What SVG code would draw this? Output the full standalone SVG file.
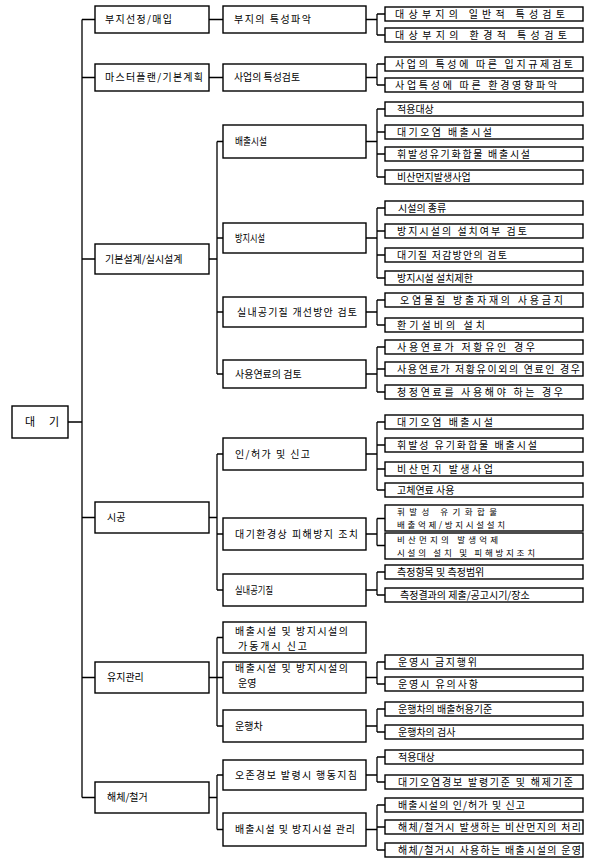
<svg xmlns="http://www.w3.org/2000/svg" width="594" height="861" viewBox="0 0 594 861">
<style>
.bx{fill:#fff;stroke:#000;stroke-width:1.4}
.tx{font-family:"Noto Sans CJK KR","Noto Sans",sans-serif;font-size:10px;fill:#000}
.t2{font-size:8.5px}
.cn{fill:none;stroke:#000;stroke-width:1.3}
</style>
<rect width="594" height="861" fill="#fff"/>
<g id="connectors" class="cn">
<path d="M68,422H82M82,19.5V797.5M82,19.5H95M82,77.5H95M82,259H95M82,517.5H95M82,677.5H95M82,797.5H95"/>
<path d="M209,19.5H223M209,77.5H223"/>
<path d="M209,259H217M217,141.5V374M217,141.5H223M217,238H223M217,312H223M217,374H223"/>
<path d="M209,517.5H217M217,454V590M217,454H223M217,534H223M217,590H223"/>
<path d="M209,677.5H217M217,637.5V726M217,637.5H223M217,677.5H223M217,726H223"/>
<path d="M209,797.5H217M217,775V829.5M217,775H223M217,829.5H223"/>
<path d="M366,19.5H377M377,14V35M377,14H385M377,35H385"/>
<path d="M366,77.5H377M377,64V85M377,64H385M377,85H385"/>
<path d="M366,141.5H377M377,109V177M377,109H385M377,132H385M377,154H385M377,177H385"/>
<path d="M366,238H377M377,208V278M377,208H385M377,231H385M377,255H385M377,278H385"/>
<path d="M366,312H377M377,300V325M377,300H385M377,325H385"/>
<path d="M366,374H377M377,347V392M377,347H385M377,369H385M377,392H385"/>
<path d="M366,454H377M377,422V490M377,422H385M377,445H385M377,469H385M377,490H385"/>
<path d="M366,534H377M377,518.5V545.5M377,518.5H385M377,545.5H385"/>
<path d="M366,590H377M377,572V595M377,572H385M377,595H385"/>
<path d="M366,677.5H377M377,662V684M377,662H385M377,684H385"/>
<path d="M366,726H377M377,709V732M377,709H385M377,732H385"/>
<path d="M366,775H377M377,757V782M377,757H385M377,782H385"/>
<path d="M366,829.5H377M377,805V850M377,805H385M377,827H385M377,850H385"/>
</g>
<g id="n0"><rect class="bx" x="12" y="406" width="56" height="32"/><text class="tx" style="font-size:11px" x="25" y="426">대</text><text class="tx" style="font-size:11px" x="49" y="426">기</text></g>
<g id="a1"><rect class="bx" x="95" y="6" width="114" height="27"/><text class="tx" x="105" y="23.1" textLength="67">부지선정/매입</text></g>
<g id="a2"><rect class="bx" x="95" y="64" width="114" height="27"/><text class="tx" x="105" y="81.1" textLength="98">마스터플랜/기본계획</text></g>
<g id="a3"><rect class="bx" x="95" y="244" width="114" height="30"/><text class="tx" x="105" y="262.6">기본설계/실시설계</text></g>
<g id="a4"><rect class="bx" x="95" y="502" width="114" height="31"/><text class="tx" x="107" y="521.1">시공</text></g>
<g id="a5"><rect class="bx" x="95" y="662" width="114" height="31"/><text class="tx" x="107" y="681.1">유지관리</text></g>
<g id="a6"><rect class="bx" x="95" y="782" width="114" height="31"/><text class="tx" x="107" y="801.1">해체/철거</text></g>
<g id="b1"><rect class="bx" x="223" y="6" width="143" height="27"/><text class="tx" x="234" y="23.1" textLength="77">부지의 특성파악</text></g>
<g id="b2"><rect class="bx" x="223" y="64" width="143" height="27"/><text class="tx" x="234" y="81.1" textLength="66" lengthAdjust="spacingAndGlyphs">사업의 특성검토</text></g>
<g id="b3"><rect class="bx" x="223" y="125" width="143" height="33"/><text class="tx" x="235" y="145.1" textLength="32" lengthAdjust="spacingAndGlyphs">배출시설</text></g>
<g id="b4"><rect class="bx" x="223" y="223" width="143" height="30"/><text class="tx" x="235" y="241.6" textLength="30" lengthAdjust="spacingAndGlyphs">방지시설</text></g>
<g id="b5"><rect class="bx" x="223" y="297" width="143" height="30"/><text class="tx" x="237" y="315.6" textLength="120">실내공기질 개선방안 검토</text></g>
<g id="b6"><rect class="bx" x="223" y="360" width="143" height="28"/><text class="tx" x="235" y="377.6">사용연료의 검토</text></g>
<g id="b7"><rect class="bx" x="223" y="438" width="143" height="32"/><text class="tx" x="235" y="457.6" textLength="75">인/허가 및 신고</text></g>
<g id="b8"><rect class="bx" x="223" y="518" width="143" height="32"/><text class="tx" x="235" y="537.6" textLength="123">대기환경상 피해방지 조치</text></g>
<g id="b9"><rect class="bx" x="223" y="574" width="143" height="32"/><text class="tx" x="235" y="593.6" textLength="38" lengthAdjust="spacingAndGlyphs">실내공기질</text></g>
<g id="b10"><rect class="bx" x="223" y="622" width="143" height="31"/><text class="tx" x="235" y="635" textLength="113">배출시설 및 방지시설의</text><text class="tx" x="238" y="649.5" textLength="69">가동개시 신고</text></g>
<g id="b11"><rect class="bx" x="223" y="662" width="143" height="31"/><text class="tx" x="235" y="672" textLength="113">배출시설 및 방지시설의</text><text class="tx" x="238" y="687">운영</text></g>
<g id="b12"><rect class="bx" x="223" y="710" width="143" height="32"/><text class="tx" x="235" y="729.6">운행차</text></g>
<g id="b13"><rect class="bx" x="223" y="760" width="143" height="30"/><text class="tx" x="235" y="778.6" textLength="122">오존경보 발령시 행동지침</text></g>
<g id="b14"><rect class="bx" x="223" y="813" width="143" height="33"/><text class="tx" x="235" y="833.1" textLength="120">배출시설 및 방지시설 관리</text></g>
<g id="c1"><rect class="bx" x="385" y="7" width="198" height="14"/><text class="tx" x="395" y="17.6" textLength="170">대상부지의 일반적 특성검토</text></g>
<g id="c2"><rect class="bx" x="385" y="28" width="198" height="14"/><text class="tx" x="395" y="38.6" textLength="172">대상부지의 환경적 특성검토</text></g>
<g id="c3"><rect class="bx" x="385" y="57" width="198" height="14"/><text class="tx" x="395" y="67.6" textLength="178">사업의 특성에 따른 입지규제검토</text></g>
<g id="c4"><rect class="bx" x="385" y="78" width="198" height="14"/><text class="tx" x="395" y="88.6" textLength="162">사업특성에 따른 환경영향파악</text></g>
<g id="c5"><rect class="bx" x="385" y="102" width="198" height="14"/><text class="tx" x="397" y="112.6">적용대상</text></g>
<g id="c6"><rect class="bx" x="385" y="125" width="198" height="14"/><text class="tx" x="397" y="135.6" textLength="95">대기오염 배출시설</text></g>
<g id="c7"><rect class="bx" x="385" y="147" width="198" height="14"/><text class="tx" x="397" y="157.6" textLength="133">휘발성유기화합물 배출시설</text></g>
<g id="c8"><rect class="bx" x="385" y="170" width="198" height="14"/><text class="tx" x="397" y="180.6">비산먼지발생사업</text></g>
<g id="c9"><rect class="bx" x="385" y="201" width="198" height="14"/><text class="tx" x="398" y="211.6">시설의 종류</text></g>
<g id="c10"><rect class="bx" x="385" y="224" width="198" height="14"/><text class="tx" x="397" y="234.6" textLength="130">방지시설의 설치여부 검토</text></g>
<g id="c11"><rect class="bx" x="385" y="248" width="198" height="14"/><text class="tx" x="397" y="258.6" textLength="110">대기질 저감방안의 검토</text></g>
<g id="c12"><rect class="bx" x="385" y="271" width="198" height="14"/><text class="tx" x="397" y="281.6">방지시설 설치제한</text></g>
<g id="c13"><rect class="bx" x="385" y="293" width="198" height="14"/><text class="tx" x="400" y="303.6" textLength="163">오염물질 방출자재의 사용금지</text></g>
<g id="c14"><rect class="bx" x="385" y="318" width="198" height="14"/><text class="tx" x="397" y="328.6" textLength="88">환기설비의 설치</text></g>
<g id="c15"><rect class="bx" x="385" y="340" width="198" height="14"/><text class="tx" x="397" y="350.6" textLength="138">사용연료가 저황유인 경우</text></g>
<g id="c16"><rect class="bx" x="385" y="362" width="198" height="14"/><text class="tx" x="397" y="372.6" textLength="183">사용연료가 저황유이외의 연료인 경우</text></g>
<g id="c17"><rect class="bx" x="385" y="385" width="198" height="14"/><text class="tx" x="397" y="395.6" textLength="166">청정연료를 사용해야 하는 경우</text></g>
<g id="c18"><rect class="bx" x="385" y="415" width="198" height="14"/><text class="tx" x="397" y="425.6" textLength="96">대기오염 배출시설</text></g>
<g id="c19"><rect class="bx" x="385" y="438" width="198" height="14"/><text class="tx" x="397" y="448.6" textLength="140">휘발성 유기화합물 배출시설</text></g>
<g id="c20"><rect class="bx" x="385" y="462" width="198" height="14"/><text class="tx" x="397" y="472.6" textLength="96">비산먼지 발생사업</text></g>
<g id="c21"><rect class="bx" x="385" y="483" width="198" height="14"/><text class="tx" x="397" y="493.6">고체연료 사용</text></g>
<g id="c22"><rect class="bx" x="385" y="505" width="198" height="26"/><text class="tx t2" x="397" y="515" textLength="100">휘발성 유기화합물</text><text class="tx t2" x="397" y="528" textLength="108">배출억제/방지시설설치</text></g>
<g id="c23"><rect class="bx" x="385" y="533" width="198" height="26"/><text class="tx t2" x="397" y="543" textLength="101">비산먼지의 발생억제</text><text class="tx t2" x="397" y="556" textLength="138">시설의 설치 및 피해방지조치</text></g>
<g id="c24"><rect class="bx" x="385" y="565" width="198" height="14"/><text class="tx" x="397" y="575.6">측정항목 및 측정범위</text></g>
<g id="c25"><rect class="bx" x="385" y="588" width="198" height="14"/><text class="tx" x="400" y="598.6">측정결과의 제출/공고시기/장소</text></g>
<g id="c26"><rect class="bx" x="385" y="655" width="198" height="14"/><text class="tx" x="398" y="665.6" textLength="79">운영시 금지행위</text></g>
<g id="c27"><rect class="bx" x="385" y="677" width="198" height="14"/><text class="tx" x="398" y="687.6" textLength="80">운영시 유의사항</text></g>
<g id="c28"><rect class="bx" x="385" y="702" width="198" height="14"/><text class="tx" x="398" y="712.6">운행차의 배출허용기준</text></g>
<g id="c29"><rect class="bx" x="385" y="725" width="198" height="14"/><text class="tx" x="398" y="735.6">운행차의 검사</text></g>
<g id="c30"><rect class="bx" x="385" y="750" width="198" height="14"/><text class="tx" x="398" y="760.6">적용대상</text></g>
<g id="c31"><rect class="bx" x="385" y="775" width="198" height="14"/><text class="tx" x="398" y="785.6" textLength="175">대기오염경보 발령기준 및 해제기준</text></g>
<g id="c32"><rect class="bx" x="385" y="798" width="198" height="14"/><text class="tx" x="398" y="808.6" textLength="127">배출시설의 인/허가 및 신고</text></g>
<g id="c33"><rect class="bx" x="385" y="820" width="198" height="14"/><text class="tx" x="398" y="830.6" textLength="183">해체/철거시 발생하는 비산먼지의 처리</text></g>
<g id="c34"><rect class="bx" x="385" y="843" width="198" height="14"/><text class="tx" x="398" y="853.6" textLength="183">해체/철거시 사용하는 배출시설의 운영</text></g>
</svg>
